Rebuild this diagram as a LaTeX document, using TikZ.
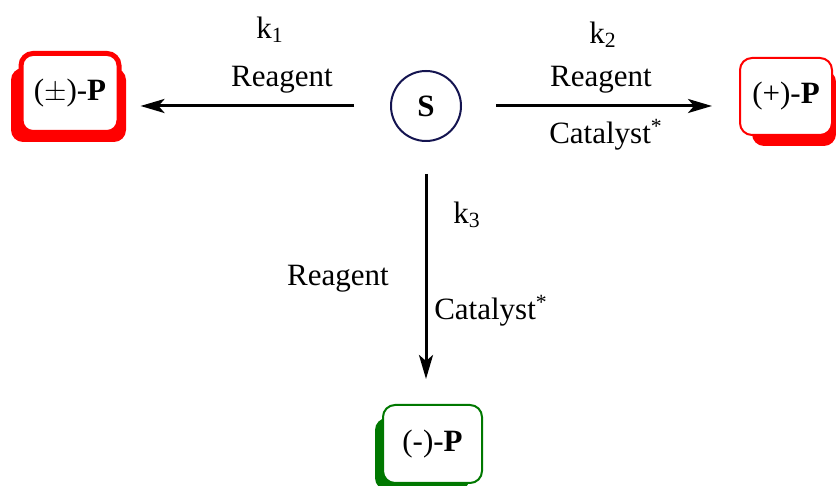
\documentclass[tikz,border=0pt]{standalone}
\usepackage{fontspec}
\setmainfont{Liberation Serif}
\usetikzlibrary{
  arrows.meta,
  positioning,
  calc
}
\definecolor{navy}{RGB}{20,20,80}
\definecolor{prodred}{RGB}{255,0,0}
\definecolor{prodgreen}{RGB}{0,120,0}

\begin{document}
\begin{tikzpicture}[x=0.5pt, y=0.5pt,
            every node/.style={font=\fontsize{15.5}{18}\selectfont},
            substrate/.style={circle, draw=navy, line width=1pt, minimum size=35pt, inner sep=0pt, font=\fontsize{15.5}{18}\selectfont\bfseries},
            prodbox/.style={rectangle, fill=white, rounded corners=6pt, inner sep=0pt},
            shadowbox/.style={rectangle, rounded corners=6pt, inner sep=0pt},
            rxn/.style={-{Stealth[length=12pt, width=7pt, inset=3pt]}, line width=1.5pt},
            lbl/.style={inner sep=0pt}]
            \useasboundingbox (0,0) rectangle (836,486);
            % substrate
            \node [substrate] (S) at (426,380) {S};
            % products with their shadows
            \node [shadowbox, fill=prodred, minimum width=57.5pt, minimum height=37pt] (pmshadow) at (68.5,381) {};
            \node [prodbox, draw=prodred, line width=2.5pt, minimum width=49pt, minimum height=39.5pt] (pm) at (70,393) {(\(\pm\))-\textbf{P}};
            \node [shadowbox, fill=prodred, minimum width=42pt, minimum height=38pt] (ppshadow) at (794,378) {};
            \node [prodbox, draw=prodred, line width=1pt, minimum width=46pt, minimum height=38.5pt] (pp) at (786,389.5) {(+)-\textbf{P}};
            \node [shadowbox, fill=prodgreen, minimum width=47.5pt, minimum height=36pt] (mmshadow) at (422.5,32) {};
            \node [prodbox, draw=prodgreen, line width=1pt, minimum width=49.5pt, minimum height=39pt] (mm) at (432.5,42) {(-)-\textbf{P}};
            % reactions
            \draw [rxn, shorten <=18pt, shorten >=9.5pt] (S.west) -- (S.west -| pm.east);
            \draw [rxn, shorten <=17pt, shorten >=13.5pt] (S.east) -- (S.east -| pp.west);
            \draw [rxn, shorten <=16pt, shorten >=12.5pt] (S.south) -- (S.south |- mm.north);
            % labels
            \node [lbl] (k1) at (270,456) {k\textsubscript{1}};
            \node [lbl] (r1) at (282,406) {Reagent};
            \node [lbl] (k2) at (603,451) {k\textsubscript{2}};
            \node [lbl] (r2) at (601,406) {Reagent};
            \node [lbl] (c2) at (606,351) {Catalyst\textsuperscript{*}};
            \node [lbl] (k3) at (467,271) {k\textsubscript{3}};
            \node [lbl] (r3) at (338,207) {Reagent};
            \node [lbl] (c3) at (491,175) {Catalyst\textsuperscript{*}};
        \end{tikzpicture}
\end{document}
